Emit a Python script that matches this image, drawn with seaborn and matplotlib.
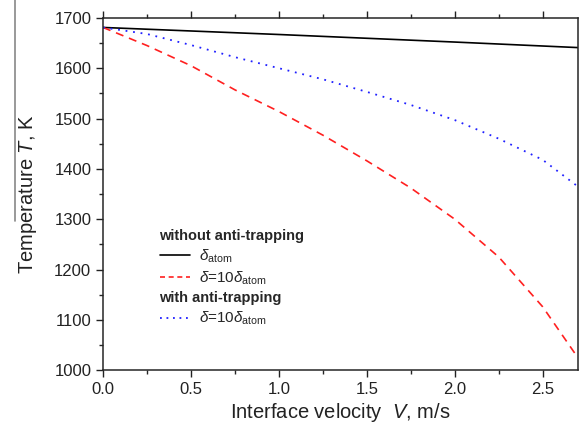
import pandas as pd
import matplotlib.pyplot as plt
import seaborn as sns
from matplotlib.lines import Line2D

# ------------------------------
# Data
# ------------------------------
v_black = [0.0, 1.0, 2.0, 2.7]
t_black = [1681, 1667, 1652, 1641]

v_curve = [0.0, 0.25, 0.5, 0.75, 1.0, 1.25, 1.5, 1.75, 2.0, 2.25, 2.5, 2.7]
t_red = [1681, 1645, 1605, 1557, 1514, 1467, 1416, 1362, 1300, 1225, 1126, 1025]
t_blue = [1681, 1668, 1646, 1622, 1600, 1578, 1553, 1527, 1497, 1460, 1418, 1365]

x_ticks = [0.0, 0.5, 1.0, 1.5, 2.0, 2.5]
y_ticks = [1000, 1100, 1200, 1300, 1400, 1500, 1600, 1700]

sns.set_style('ticks')
plt.rcParams['font.family'] = ['Liberation Sans', 'DejaVu Sans']
plt.rcParams['mathtext.fontset'] = 'custom'
plt.rcParams['mathtext.rm'] = 'Liberation Sans'
plt.rcParams['mathtext.it'] = 'Liberation Sans:italic'

df_black = pd.DataFrame({'V': v_black, 'T': t_black})
df_curve = pd.DataFrame({'V': v_curve, 'red': t_red, 'blue': t_blue})

fig = plt.figure(figsize=(5.79, 4.26), dpi=100)
ax = fig.add_axes([0.178, 0.131, 0.820, 0.827])

sns.lineplot(data=df_black, x='V', y='T', ax=ax, color='black', lw=1.2)
sns.lineplot(data=df_curve, x='V', y='red', ax=ax, color='#ff2020', lw=1.2,
             linestyle=(0, (4.8, 3.6)))
sns.lineplot(data=df_curve, x='V', y='blue', ax=ax, color='#2020ff', lw=1.3,
             linestyle=(0, (1, 3.2)))

ax.set_xlim(0, 2.7)
ax.set_ylim(1000, 1700)
ax.set_xticks(x_ticks)
ax.set_xticklabels([f'{v:.1f}' for v in x_ticks])
ax.set_yticks(y_ticks)
ax.set_xticks([0.25, 0.75, 1.25, 1.75, 2.25], minor=True)
ax.set_yticks([1050, 1150, 1250, 1350, 1450, 1550, 1650], minor=True)
ax.tick_params(axis='both', which='major', labelsize=12, length=5, width=1,
               direction='out', colors='#222222', labelcolor='#222222')
ax.tick_params(axis='both', which='minor', length=3, width=1, direction='out')
ax.tick_params(axis='x', which='both', top=True, labeltop=False)
ax.tick_params(axis='y', which='both', right=False)
for s in ax.spines.values():
    s.set_linewidth(1.1)

ax.set_xlabel(r'Interface velocity  $V$, m/s', fontsize=14.5, labelpad=3, color='#222222')
ax.set_ylabel(r'Temperature $T$, K', fontsize=14.5, labelpad=11, color='#222222')

# ------------------------------
# Legend with group headers
# ------------------------------
blank = Line2D([], [], color='none')
h_black = Line2D([], [], color='black', lw=1.2)
h_red = Line2D([], [], color='#ff2020', lw=1.2, linestyle=(0, (3.0, 2.2)))
h_blue = Line2D([], [], color='#2020ff', lw=1.3, linestyle=(0, (1, 2.6)))
handles = [blank, h_black, h_red, blank, h_blue]
labels = ['without anti-trapping', r'$\delta_{\rm atom}$', r'$\delta$=10$\delta_{\rm atom}$',
          'with anti-trapping', r'$\delta$=10$\delta_{\rm atom}$']
leg = ax.legend(handles, labels, loc='upper left', bbox_to_anchor=(0.09, 0.44),
                frameon=False, fontsize=11, handlelength=2.0, handletextpad=0.6,
                labelspacing=0.3)
header_idx = [0, 3]
for i, t in enumerate(leg.get_texts()):
    if i in header_idx:
        t.set_fontweight('bold')
        t.set_fontsize(10.5)
rows = leg._legend_handle_box.get_children()[0].get_children()
for i, hp in enumerate(rows):
    if i in header_idx:
        hp.get_children()[0].set_width(0)
        hp.sep = 0

# grey page-edge line seen at far left of the reference
fig.add_artist(Line2D([15 / 579, 15 / 579], [1.0, 1 - 221 / 426], color='#888888', lw=1.2,
                      transform=fig.transFigure))

plt.savefig('out.png', dpi=100)
plt.close()
